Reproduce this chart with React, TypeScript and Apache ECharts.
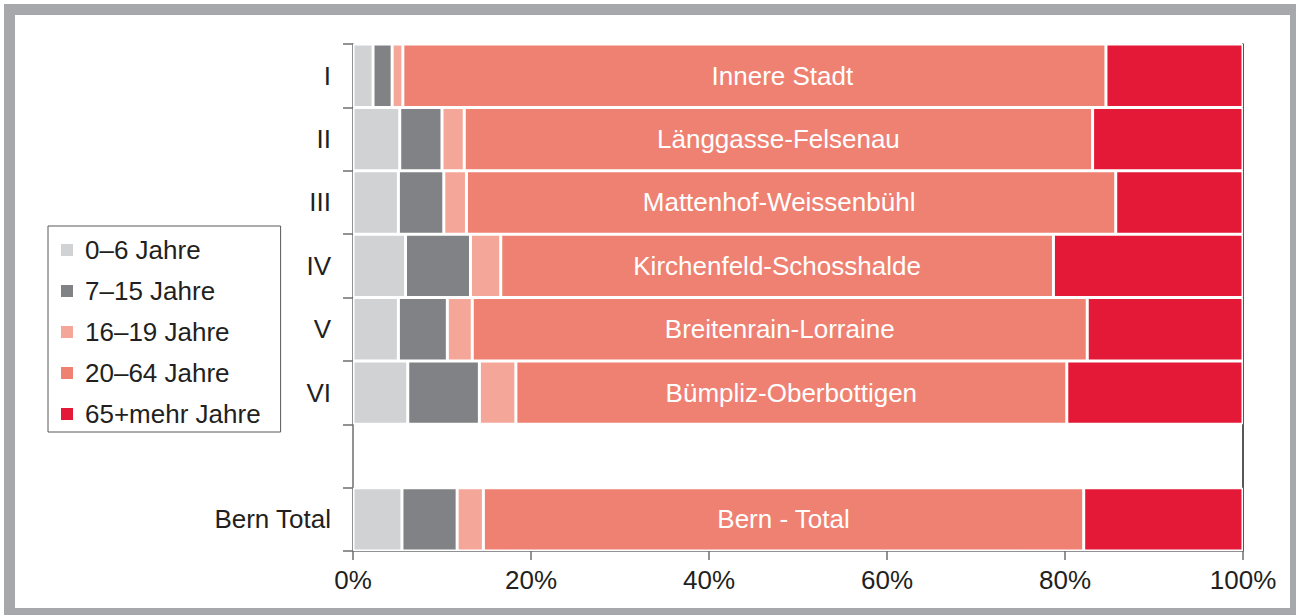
import React, { useEffect, useRef } from "react";
import * as echarts from "echarts";

const categories = ["I", "II", "III", "IV", "V", "VI", "", "Bern Total"];
const districtNames = [
  "Innere Stadt",
  "Länggasse-Felsenau",
  "Mattenhof-Weissenbühl",
  "Kirchenfeld-Schosshalde",
  "Breitenrain-Lorraine",
  "Bümpliz-Oberbottigen",
  "",
  "Bern - Total",
];
const seriesNames = ["0–6 Jahre", "7–15 Jahre", "16–19 Jahre", "20–64 Jahre", "65+mehr Jahre"];
const age0to6 = [2.25, 5.25, 5.1, 5.9, 5.1, 6.15, null, 5.5];
const age7to15 = [2.15, 4.75, 5.1, 7.3, 5.5, 8.05, null, 6.2];
const age16to19 = [1.2, 2.5, 2.55, 3.4, 2.8, 4.1, null, 2.95];
const age20to64 = [79.0, 70.6, 72.95, 62.1, 69.1, 61.9, null, 67.45];
const age65plus = [15.4, 16.9, 14.3, 21.3, 17.5, 19.8, null, 17.9];
const xTicks = { min: 0, max: 100, interval: 20 };

const colors = ["#d1d2d4", "#808285", "#f4a799", "#ef8172", "#e31937"];
const FONT = "Liberation Sans, Arial, sans-serif";
const TEXT = "#231f20";
const AXIS = "#6d6e71";
// horizontal nudges of the in-bar labels (style only)
const labelNudge: Record<number, number> = { 0: 28, 2: -12 };

export default function App() {
  const ref = useRef<HTMLDivElement>(null);
  useEffect(() => {
    if (!ref.current) return;
    const chart = echarts.init(ref.current, null, { renderer: "svg" });
    const values = [age0to6, age7to15, age16to19, age20to64, age65plus];
    const series = values.map((arr, i) => ({
      name: seriesNames[i],
      type: "bar",
      stack: "total",
      barCategoryGap: "0%",
      data: arr.map((v, j) => {
        if (v === null) return "-";
        if (i === 3 && labelNudge[j] !== undefined) {
          return { value: v, label: { offset: [labelNudge[j], 0] } };
        }
        return v;
      }),
      itemStyle: { color: colors[i], borderColor: "#ffffff", borderWidth: 1.5 },
      label:
        i === 3
          ? {
              show: true,
              position: "inside",
              color: "#ffffff",
              fontSize: 26,
              fontFamily: FONT,
              formatter: (p: any) => districtNames[p.dataIndex],
            }
          : { show: false },
      emphasis: { disabled: true },
    }));
    chart.setOption({
      animation: false,
      textStyle: { fontFamily: FONT },
      graphic: [
        {
          type: "rect",
          z: -100,
          shape: { x: 4, y: 4, width: 1292, height: 611 },
          style: { fill: "#a7a8ab" },
        },
        {
          type: "rect",
          z: -99,
          shape: { x: 15, y: 15, width: 1275, height: 593 },
          style: { fill: "#ffffff" },
        },
      ],
      legend: {
        orient: "vertical",
        left: 48,
        top: 226,
        data: seriesNames,
        icon: "rect",
        itemWidth: 14,
        itemHeight: 14,
        itemGap: 15,
        padding: [11, 20, 5, 11],
        borderColor: "#58595b",
        borderWidth: 1,
        backgroundColor: "#ffffff",
        textStyle: { color: TEXT, fontSize: 26, fontFamily: FONT, lineHeight: 26, padding: [0, 0, 0, 6] },
      },
      grid: { left: 353, right: 53, top: 44, bottom: 64, containLabel: false },
      xAxis: {
        type: "value",
        min: xTicks.min,
        max: xTicks.max,
        interval: xTicks.interval,
        axisLine: { show: true, lineStyle: { color: AXIS, width: 1.5 } },
        axisTick: { show: true, length: 9, lineStyle: { color: AXIS, width: 1.5 } },
        splitLine: { show: false },
        axisLabel: { formatter: "{value}%", color: TEXT, fontSize: 26, fontFamily: FONT, margin: 16 },
      },
      yAxis: [
        {
          type: "category",
          data: categories,
          inverse: true,
          axisLine: { show: true, lineStyle: { color: AXIS, width: 1.5 } },
          axisTick: { show: true, length: 10, lineStyle: { color: AXIS, width: 1.5 } },
          axisLabel: { color: TEXT, fontSize: 26, fontFamily: FONT, margin: 22 },
        },
        {
          type: "category",
          data: categories,
          inverse: true,
          position: "right",
          axisLine: { show: true, lineStyle: { color: "#231f20", width: 1.5 } },
          axisTick: { show: false },
          axisLabel: { show: false },
        },
      ],
      series,
    });
    return () => chart.dispose();
  }, []);
  return (
    <div
      ref={ref}
      style={{ position: "absolute", left: 0, top: 0, width: 1296, height: 615, background: "#ffffff" }}
    />
  );
}
